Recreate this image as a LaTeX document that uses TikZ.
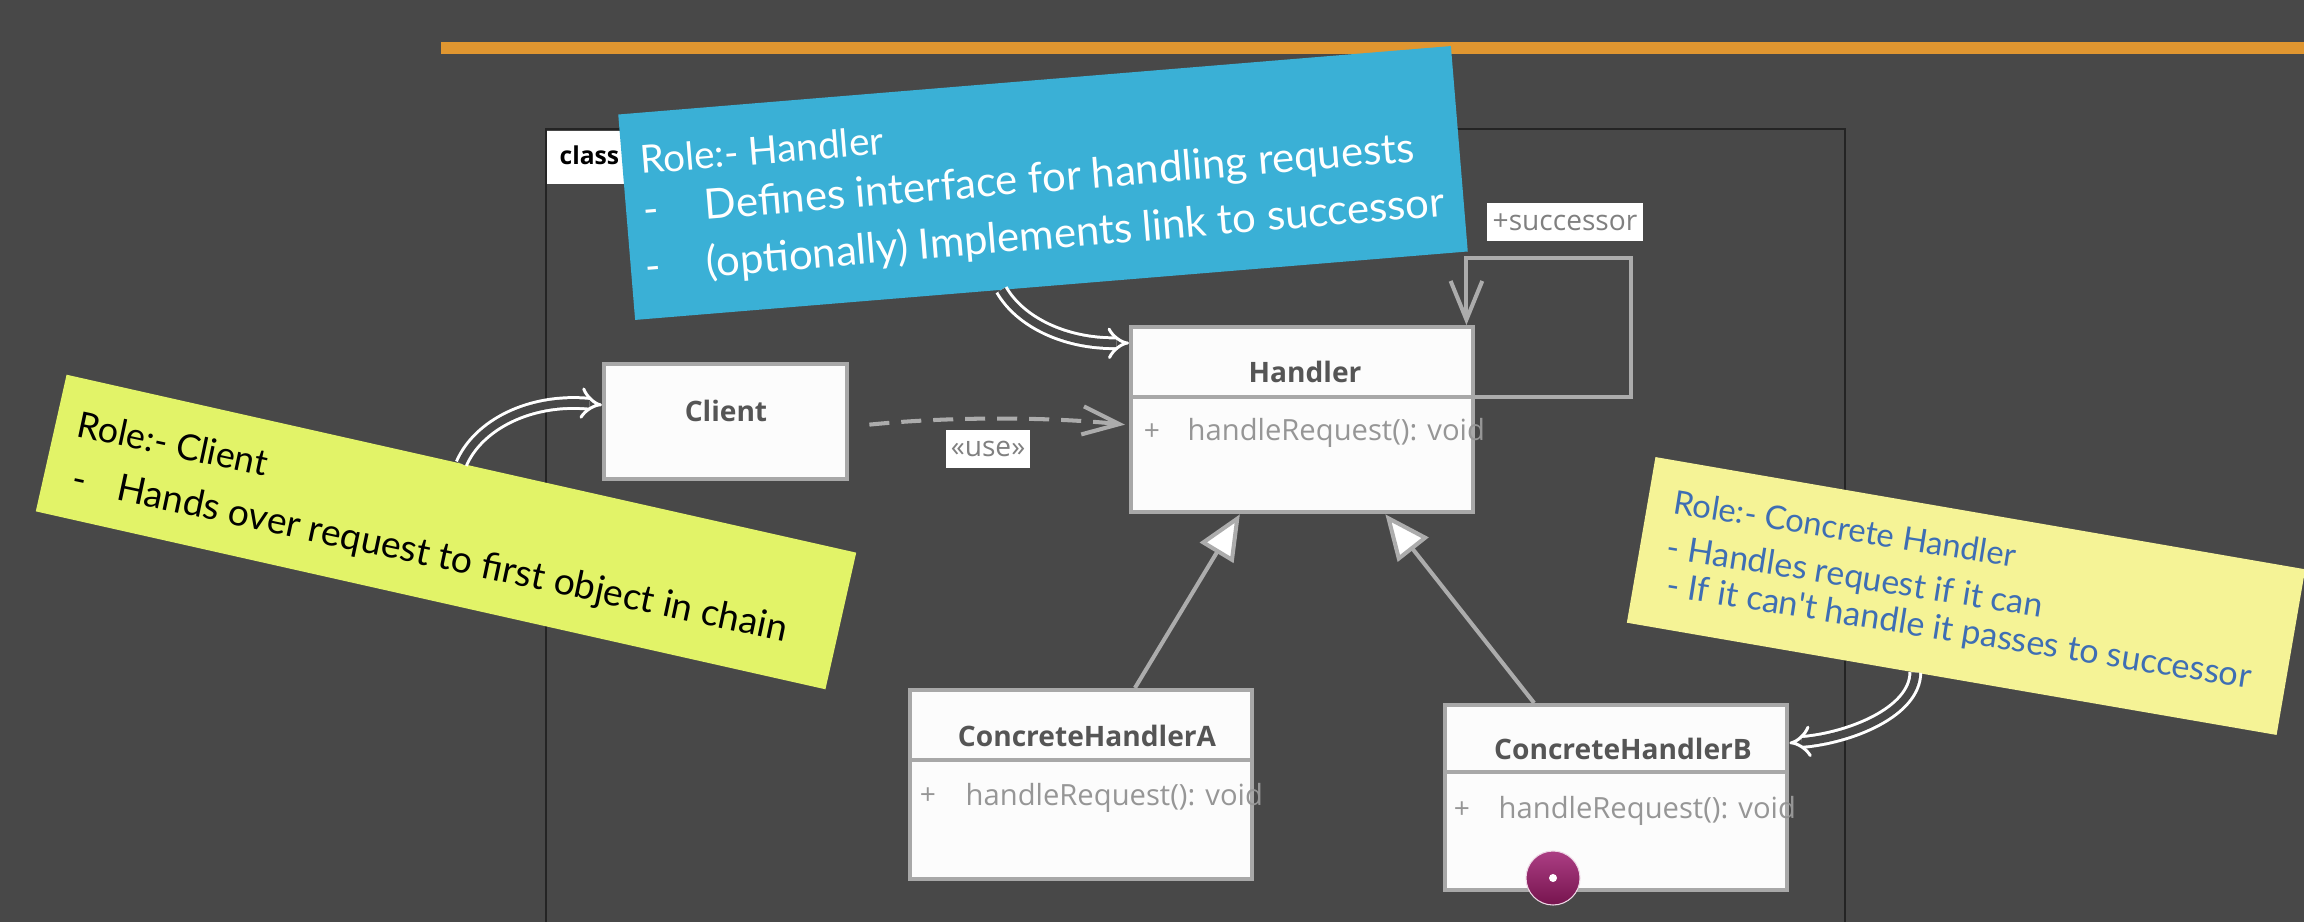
\documentclass[tikz,border=0pt]{standalone}
\usepackage{fontspec}
\newfontfamily\umlfont{Open Sans}
\newfontfamily\handfont{Lato}
\usetikzlibrary{arrows.meta,calc}
\definecolor{bgcol}{RGB}{72,72,72}
\definecolor{framecol}{RGB}{36,36,36}
\definecolor{orangecol}{RGB}{224,150,48}
\definecolor{boxcol}{RGB}{168,168,168}
\definecolor{boxfillcol}{RGB}{252,252,252}
\definecolor{titlecol}{RGB}{85,85,85}
\definecolor{methcol}{RGB}{150,150,150}
\definecolor{conncol}{RGB}{172,172,172}
\definecolor{bluenotecol}{RGB}{58,176,214}
\definecolor{limenotecol}{RGB}{226,243,104}
\definecolor{yellownotecol}{RGB}{245,243,150}
\definecolor{notetextcol}{RGB}{62,110,180}
\definecolor{dottop}{RGB}{172,62,132}
\definecolor{dotbottom}{RGB}{118,20,78}
\begin{document}
\begin{tikzpicture}[x=0.01cm,y=-0.01cm,
  umlbox/.style={draw=boxcol, fill=boxfillcol, line width=1.2pt, inner sep=0pt, anchor=north west},
  divider/.style={draw=boxcol, line width=1.2pt},
  umltitle/.style={font=\umlfont\bfseries\fontsize{8}{9.6}\selectfont, text=titlecol, inner sep=0pt},
  umlmeth/.style={font=\umlfont\fontsize{8.3}{10}\selectfont, text=methcol, inner sep=0pt, anchor=base west},
  umlplus/.style={font=\umlfont\fontsize{8}{9.6}\selectfont, text=methcol, inner sep=0pt},
  umllabel/.style={fill=white, font=\umlfont\fontsize{8}{9.6}\selectfont, text=methcol!85!black, inner sep=0pt},
  connline/.style={draw=conncol, line width=1.15pt},
  genarrow/.style={connline, -{Triangle[open, fill=white, length=12.8pt, width=11pt]}},
  notebox/.style={rectangle, inner sep=0pt, outer sep=0pt},
  handline/.style={inner sep=0pt, anchor=base west},
  handarrow/.style={draw=white, line width=0.85pt, double=bgcol, double distance=2.2pt, -{Implies[length=7pt, width=16pt]}},
]
\useasboundingbox (0,0) rectangle (2304,922);
\clip (0,0) rectangle (2304,922);
\fill[bgcol] (0,0) rectangle (2304,922);
\fill[orangecol] (441,42) rectangle (2304,54);
\draw[framecol, line width=0.8pt] (546,129) rectangle (1845,980);
\node[fill=white, inner sep=0pt, minimum width=1.0cm, minimum height=0.53cm, anchor=north west] (classbox) at (546,130) {};
\node[font=\umlfont\bfseries\fontsize{7}{8}\selectfont, text=black, inner sep=0pt, anchor=base west] (classlbl) at (559,165) {class};

% UML classes
\node[umlbox, minimum width=2.43cm, minimum height=1.15cm] (client) at (602,362) {};
\node[umltitle] (clientt) at (726,411) {Client};

\node[umlbox, minimum width=3.42cm, minimum height=1.85cm] (handler) at (1129,325) {};
\draw[divider] ($(handler.north west)+(0,72)$) -- ($(handler.north east)+(0,72)$);
\node[umltitle] (handlert) at (1305,372) {Handler};
\node[umlplus] (handlerp) at (1152,432) {+};
\node[umlmeth] (handlerm) at (1187,441) {handleRequest(): void};

\node[umlbox, minimum width=3.42cm, minimum height=1.89cm] (cha) at (908,688) {};
\draw[divider] ($(cha.north west)+(0,72)$) -- ($(cha.north east)+(0,72)$);
\node[umltitle] (chat) at (1087,736) {ConcreteHandlerA};
\node[umlplus] (chap) at (928,796) {+};
\node[umlmeth] (cham) at (965,805) {handleRequest(): void};

\node[umlbox, minimum width=3.42cm, minimum height=1.85cm] (chb) at (1443,703) {};
\draw[divider] ($(chb.north west)+(0,69)$) -- ($(chb.north east)+(0,69)$);
\node[umltitle] (chbt) at (1623,749) {ConcreteHandlerB};
\node[umlplus] (chbp) at (1462,810) {+};
\node[umlmeth] (chbm) at (1498,818) {handleRequest(): void};

% connectors
\draw[genarrow] ($(cha.north west)!0.655!(cha.north east)$) -- ($(handler.south west)!0.32!(handler.south east)$);
\draw[genarrow] ($(chb.north west)!0.263!(chb.north east)$) -- ($(handler.south west)!0.74!(handler.south east)$);
\draw[connline, dash pattern=on 5.7pt off 3.4pt, -{Straight Barb[length=10.5pt, width=8pt]}]
  ($(client.east)+(20,3)$) .. controls +(80,-8) and +(-80,-8) .. ($(handler.west)+(-4,5)$);
\node[umllabel, minimum width=0.84cm, minimum height=0.38cm] (uselbl) at (988,449) {«use»};
\draw[connline, -{Straight Barb[length=11pt, width=9pt]}]
  ($(handler.north east)+(0,72)$) -| ($(handler.north east)+(156,-67)$) -| ($(handler.north east)+(-9,0)$);
\node[umllabel, minimum width=1.56cm, minimum height=0.37cm] (succlbl) at (1565,222) {+successor};

% notes
\node[notebox, fill=bluenotecol, minimum width=8.35cm, minimum height=2.06cm, rotate=4.7] (handlernote) at (1043,183) {};
\node[notebox, fill=limenotecol, minimum width=8.09cm, minimum height=1.40cm, rotate=-12.7] (clientnote) at (446,532) {};
\node[notebox, fill=yellownotecol, minimum width=6.59cm, minimum height=1.68cm, rotate=-9.8] (concnote) at (1966,596) {};

\node[handline, text=white, font=\handfont\fontsize{11}{13}\selectfont, rotate=4.7] (hn1) at (641,174) {Role:- Handler};
\node[handline, text=white, font=\handfont\fontsize{11.9}{14}\selectfont, rotate=4.7] (hn2) at (644,225) {-\hspace{13pt}Defines interface for handling requests};
\node[handline, text=white, font=\handfont\fontsize{11.9}{14}\selectfont, rotate=4.7] (hn3) at (646,282) {-\hspace{13pt}(optionally) Implements link to successor};

\node[handline, text=black, font=\handfont\fontsize{10.2}{12}\selectfont, rotate=-12] (cn1) at (75,436) {Role:- Client};
\node[handline, text=black, font=\handfont\fontsize{10.6}{13}\selectfont, rotate=-12] (cn2) at (70,490) {-\hspace{9pt}Hands over request to first object in chain};

\node[handline, text=notetextcol, font=\handfont\fontsize{9.3}{11}\selectfont, rotate=-9] (kn1) at (1672,513) {Role:- Concrete Handler};
\node[handline, text=notetextcol, font=\handfont\fontsize{9.6}{11}\selectfont, rotate=-9] (kn2) at (1665,558) {- Handles request if it can};
\node[handline, text=notetextcol, font=\handfont\fontsize{9.7}{11}\selectfont, rotate=-9] (kn3) at (1665,596) {- If it can't handle it passes to successor};

% hand-drawn pointers
\draw[handarrow] ($(handlernote.south west)!0.44!(handlernote.south east)$) .. controls (1020,322) and (1065,344) .. ($(handler.north west)+(0,18)$);
\draw[handarrow] (clientnote.north) .. controls (478,425) and (530,398) .. ($(client.north west)+(0,43)$);
\draw[handarrow] ($(concnote.south west)!0.444!(concnote.south east)$) .. controls (1915,712) and (1850,738) .. ($(chb.north east)+(0,40)$);

% cursor dot
\node[circle, inner sep=0pt, minimum size=0.54cm, top color=dottop, bottom color=dotbottom, draw=white!80!dottop, line width=0.3pt] (dot) at (1553,878) {};
\node[circle, inner sep=0pt, minimum size=0.08cm, fill=white] (dotc) at (dot) {};
\end{tikzpicture}
\end{document}
